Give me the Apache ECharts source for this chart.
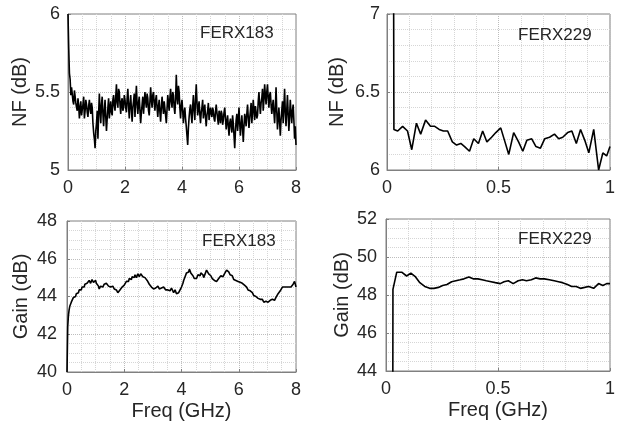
<!DOCTYPE html>
<html>
<head>
<meta charset="utf-8">
<script src="https://cdn.jsdelivr.net/npm/echarts@6/dist/echarts.min.js"></script>
<style>
  html, body { margin: 0; padding: 0; background: #fff; }
  #chart { width: 618px; height: 432px; }
</style>
</head>
<body>
<div id="chart"></div>
<script>
// FERX183 sweep, 0 - 8 GHz
let freq183 = [
  0, 0.025, 0.05, 0.075, 0.1, 0.125, 0.15, 0.175, 0.2, 0.225, 0.25, 0.275, 0.3, 0.325, 0.35, 0.375, 0.4, 0.425, 0.45, 0.475,
  0.5, 0.525, 0.55, 0.575, 0.6, 0.625, 0.65, 0.675, 0.7, 0.725, 0.75, 0.775, 0.8, 0.825, 0.85, 0.875, 0.9, 0.925, 0.95, 0.975,
  1, 1.025, 1.05, 1.075, 1.1, 1.125, 1.15, 1.175, 1.2, 1.225, 1.25, 1.275, 1.3, 1.325, 1.35, 1.375, 1.4, 1.425, 1.45, 1.475,
  1.5, 1.525, 1.55, 1.575, 1.6, 1.625, 1.65, 1.675, 1.7, 1.725, 1.75, 1.775, 1.8, 1.825, 1.85, 1.875, 1.9, 1.925, 1.95, 1.975,
  2, 2.025, 2.05, 2.075, 2.1, 2.125, 2.15, 2.175, 2.2, 2.225, 2.25, 2.275, 2.3, 2.325, 2.35, 2.375, 2.4, 2.425, 2.45, 2.475,
  2.5, 2.525, 2.55, 2.575, 2.6, 2.625, 2.65, 2.675, 2.7, 2.725, 2.75, 2.775, 2.8, 2.825, 2.85, 2.875, 2.9, 2.925, 2.95, 2.975,
  3, 3.025, 3.05, 3.075, 3.1, 3.125, 3.15, 3.175, 3.2, 3.225, 3.25, 3.275, 3.3, 3.325, 3.35, 3.375, 3.4, 3.425, 3.45, 3.475,
  3.5, 3.525, 3.55, 3.575, 3.6, 3.625, 3.65, 3.675, 3.7, 3.725, 3.75, 3.775, 3.8, 3.825, 3.85, 3.875, 3.9, 3.925, 3.95, 3.975,
  4, 4.025, 4.05, 4.075, 4.1, 4.125, 4.15, 4.175, 4.2, 4.225, 4.25, 4.275, 4.3, 4.325, 4.35, 4.375, 4.4, 4.425, 4.45, 4.475,
  4.5, 4.525, 4.55, 4.575, 4.6, 4.625, 4.65, 4.675, 4.7, 4.725, 4.75, 4.775, 4.8, 4.825, 4.85, 4.875, 4.9, 4.925, 4.95, 4.975,
  5, 5.025, 5.05, 5.075, 5.1, 5.125, 5.15, 5.175, 5.2, 5.225, 5.25, 5.275, 5.3, 5.325, 5.35, 5.375, 5.4, 5.425, 5.45, 5.475,
  5.5, 5.525, 5.55, 5.575, 5.6, 5.625, 5.65, 5.675, 5.7, 5.725, 5.75, 5.775, 5.8, 5.825, 5.85, 5.875, 5.9, 5.925, 5.95, 5.975,
  6, 6.025, 6.05, 6.075, 6.1, 6.125, 6.15, 6.175, 6.2, 6.225, 6.25, 6.275, 6.3, 6.325, 6.35, 6.375, 6.4, 6.425, 6.45, 6.475,
  6.5, 6.525, 6.55, 6.575, 6.6, 6.625, 6.65, 6.675, 6.7, 6.725, 6.75, 6.775, 6.8, 6.825, 6.85, 6.875, 6.9, 6.925, 6.95, 6.975,
  7, 7.025, 7.05, 7.075, 7.1, 7.125, 7.15, 7.175, 7.2, 7.225, 7.25, 7.275, 7.3, 7.325, 7.35, 7.375, 7.4, 7.425, 7.45, 7.475,
  7.5, 7.525, 7.55, 7.575, 7.6, 7.625, 7.65, 7.675, 7.7, 7.725, 7.75, 7.775, 7.8, 7.825, 7.85, 7.875, 7.9, 7.925, 7.95, 7.975,
  8
];
let nf183 = [
  6.00, 5.78, 5.62, 5.58, 5.48, 5.53, 5.52, 5.44, 5.42, 5.51, 5.50, 5.43, 5.40, 5.38, 5.46, 5.41, 5.33, 5.40, 5.44, 5.35,
  5.36, 5.42, 5.47, 5.33, 5.38, 5.45, 5.42, 5.37, 5.34, 5.41, 5.45, 5.39, 5.36, 5.43, 5.40, 5.30, 5.24, 5.20, 5.14, 5.25,
  5.30, 5.38, 5.20, 5.36, 5.49, 5.38, 5.30, 5.42, 5.47, 5.36, 5.28, 5.38, 5.45, 5.34, 5.25, 5.33, 5.40, 5.46, 5.33, 5.39,
  5.44, 5.37, 5.35, 5.45, 5.48, 5.41, 5.38, 5.47, 5.55, 5.43, 5.40, 5.52, 5.50, 5.42, 5.36, 5.44, 5.46, 5.38, 5.40, 5.48,
  5.45, 5.40, 5.37, 5.46, 5.52, 5.41, 5.33, 5.42, 5.48, 5.39, 5.31, 5.40, 5.44, 5.49, 5.34, 5.45, 5.54, 5.42, 5.36, 5.43,
  5.47, 5.38, 5.30, 5.37, 5.42, 5.47, 5.36, 5.43, 5.50, 5.44, 5.40, 5.49, 5.46, 5.38, 5.35, 5.44, 5.53, 5.45, 5.40, 5.48,
  5.50, 5.43, 5.38, 5.45, 5.48, 5.40, 5.34, 5.41, 5.45, 5.37, 5.31, 5.40, 5.47, 5.41, 5.36, 5.44, 5.43, 5.35, 5.30, 5.39,
  5.48, 5.43, 5.38, 5.46, 5.52, 5.44, 5.40, 5.50, 5.48, 5.40, 5.36, 5.45, 5.61, 5.47, 5.42, 5.54, 5.50, 5.40, 5.33, 5.41,
  5.45, 5.38, 5.30, 5.37, 5.40, 5.33, 5.28, 5.22, 5.16, 5.27, 5.34, 5.39, 5.42, 5.35, 5.30, 5.41, 5.48, 5.38, 5.32, 5.45,
  5.55, 5.44, 5.35, 5.40, 5.44, 5.36, 5.30, 5.37, 5.40, 5.45, 5.33, 5.38, 5.42, 5.34, 5.28, 5.35, 5.38, 5.43, 5.32, 5.37,
  5.40, 5.36, 5.34, 5.40, 5.38, 5.33, 5.31, 5.37, 5.42, 5.37, 5.33, 5.29, 5.38, 5.35, 5.30, 5.38, 5.36, 5.29, 5.32, 5.37,
  5.40, 5.33, 5.26, 5.31, 5.35, 5.28, 5.22, 5.30, 5.33, 5.28, 5.24, 5.35, 5.30, 5.22, 5.14, 5.25, 5.32, 5.36, 5.25, 5.31,
  5.40, 5.30, 5.22, 5.29, 5.35, 5.27, 5.18, 5.28, 5.36, 5.33, 5.28, 5.36, 5.42, 5.34, 5.27, 5.33, 5.38, 5.43, 5.30, 5.37,
  5.45, 5.38, 5.32, 5.41, 5.40, 5.33, 5.35, 5.44, 5.50, 5.42, 5.36, 5.43, 5.46, 5.52, 5.38, 5.45, 5.55, 5.48, 5.42, 5.50,
  5.55, 5.46, 5.40, 5.48, 5.50, 5.42, 5.36, 5.41, 5.45, 5.37, 5.30, 5.40, 5.53, 5.38, 5.26, 5.33, 5.40, 5.31, 5.22, 5.32,
  5.38, 5.44, 5.30, 5.40, 5.52, 5.37, 5.28, 5.38, 5.48, 5.36, 5.25, 5.34, 5.45, 5.37, 5.30, 5.38, 5.42, 5.32, 5.20, 5.28,
  5.16
];
let gain183 = [
  40.0, 42.4, 43.0, 43.3, 43.5, 43.55, 43.7, 43.65, 43.8, 43.95, 43.85, 44.0, 44.0, 44.15, 44.1, 44.25, 44.2, 44.35, 44.3, 44.25,
  44.35, 44.5, 44.45, 44.55, 44.5, 44.65, 44.6, 44.75, 44.7, 44.8, 44.65, 44.85, 44.8, 44.7, 44.75, 44.9, 44.8, 44.75, 44.7, 44.8,
  44.85, 44.7, 44.6, 44.65, 44.55, 44.4, 44.45, 44.55, 44.6, 44.45, 44.5, 44.6, 44.65, 44.55, 44.6, 44.7, 44.7, 44.6, 44.55, 44.65,
  44.6, 44.5, 44.45, 44.55, 44.55, 44.45, 44.4, 44.5, 44.45, 44.35, 44.3, 44.2, 44.2, 44.3, 44.35, 44.45, 44.4, 44.5, 44.55, 44.5,
  44.6, 44.7, 44.7, 44.8, 44.85, 44.75, 44.8, 44.95, 44.95, 44.85, 44.9, 45.05, 45.05, 44.95, 45.0, 45.15, 45.1, 45.0, 45.05, 45.2,
  45.15, 45.05, 45.1, 45.2, 45.15, 45.1, 45.05, 45.15, 45.1, 45.0, 44.95, 44.9, 44.85, 44.8, 44.75, 44.65, 44.6, 44.55, 44.5, 44.45,
  44.45, 44.4, 44.35, 44.5, 44.45, 44.35, 44.4, 44.55, 44.5, 44.4, 44.35, 44.5, 44.45, 44.35, 44.4, 44.5, 44.5, 44.4, 44.35, 44.45,
  44.45, 44.35, 44.4, 44.45, 44.3, 44.4, 44.45, 44.35, 44.35, 44.2, 44.25, 44.35, 44.3, 44.15, 44.1, 44.2, 44.2, 44.3, 44.35, 44.45,
  44.5, 44.55, 44.7, 44.85, 44.95, 45.05, 45.15, 45.25, 45.35, 45.25, 45.3, 45.45, 45.4, 45.25, 45.2, 45.15, 45.1, 45.0, 44.95, 44.85,
  44.85, 44.95, 45.0, 45.15, 45.2, 45.05, 45.1, 45.25, 45.3, 45.2, 45.15, 45.0, 45.05, 45.2, 45.3, 45.4, 45.45, 45.3, 45.2, 45.3,
  45.2, 45.1, 45.05, 44.95, 44.95, 44.85, 44.85, 44.95, 44.9, 44.8, 44.8, 44.9, 44.95, 44.9, 45.0, 45.1, 45.1, 45.0, 45.05, 45.15,
  45.2, 45.25, 45.3, 45.4, 45.4, 45.45, 45.3, 45.25, 45.15, 45.1, 45.05, 45.1, 45.0, 44.9, 44.95, 44.85, 44.85, 44.95, 44.9, 44.8,
  44.8, 44.7, 44.75, 44.85, 44.8, 44.7, 44.7, 44.65, 44.6, 44.5, 44.55, 44.5, 44.45, 44.35, 44.4, 44.35, 44.3, 44.2, 44.25, 44.2,
  44.15, 44.05, 44.05, 44.1, 44.0, 43.9, 43.95, 43.9, 43.9, 43.8, 43.85, 43.75, 43.8, 43.85, 43.8, 43.7, 43.7, 43.6, 43.75, 43.8,
  43.8, 43.7, 43.7, 43.8, 43.8, 43.75, 43.75, 43.85, 43.85, 43.8, 43.8, 43.9, 43.95, 44.0, 44.05, 44.15, 44.2, 44.25, 44.3, 44.4,
  44.4, 44.5, 44.45, 44.5, 44.5, 44.4, 44.4, 44.5, 44.55, 44.45, 44.5, 44.55, 44.45, 44.5, 44.6, 44.55, 44.65, 44.75, 44.8, 44.7,
  44.5
];

// FERX229 sweep, 0 - 1 GHz
let freq229 = [
  0.029, 0.031, 0.048, 0.070, 0.092, 0.111, 0.132, 0.151, 0.173, 0.195, 0.214,
  0.234, 0.253, 0.272, 0.293, 0.312, 0.331, 0.348, 0.370, 0.389, 0.410,
  0.429, 0.448, 0.469, 0.488, 0.510, 0.527, 0.546, 0.568, 0.590, 0.609,
  0.627, 0.649, 0.668, 0.688, 0.707, 0.729, 0.751, 0.770, 0.788, 0.810,
  0.829, 0.849, 0.868, 0.887, 0.905, 0.927, 0.949, 0.968, 0.985, 1.0
];
let nf229 = [
  7.60, 6.26, 6.25, 6.28, 6.25, 6.13, 6.30, 6.23, 6.32, 6.28, 6.28,
  6.26, 6.25, 6.25, 6.18, 6.16, 6.17, 6.15, 6.12, 6.20, 6.17,
  6.25, 6.18, 6.21, 6.24, 6.27, 6.19, 6.10, 6.24, 6.18, 6.12,
  6.19, 6.20, 6.15, 6.14, 6.20, 6.21, 6.23, 6.20, 6.21, 6.24,
  6.25, 6.17, 6.26, 6.19, 6.11, 6.26, 6.00, 6.11, 6.09, 6.15
];
let gain229 = [
  30.0, 48.3, 49.2, 49.2, 49.0, 49.15, 48.95, 48.65, 48.45, 48.35, 48.35,
  48.4, 48.5, 48.55, 48.7, 48.75, 48.8, 48.85, 48.95, 48.85, 48.85,
  48.8, 48.75, 48.7, 48.65, 48.6, 48.7, 48.75, 48.6, 48.75, 48.8,
  48.75, 48.8, 48.9, 48.85, 48.85, 48.8, 48.75, 48.7, 48.65, 48.55,
  48.45, 48.45, 48.35, 48.4, 48.45, 48.35, 48.6, 48.5, 48.6, 48.6
];

let font = '"Liberation Sans", Arial, sans-serif';
let textColor = '#262626';
let boxColor = '#808080';

// one panel per entry: grid box, axes ranges and text
let panels = [
  { box: {left: 68, top: 14, width: 228, height: 156}, x: [0, 8, 2, 4], y: [5, 6, 0.5, 5],
    yName: 'NF (dB)', yGap: 38, yMargin: 8, xName: '', label: 'FERX183', labelPos: [200, 25] },
  { box: {left: 387, top: 14, width: 228, height: 156}, x: [0, 1, 0.5, 5], y: [6, 7, 0.5, 5],
    yName: 'NF (dB)', yGap: 40, yMargin: 7, xName: '', label: 'FERX229', labelPos: [518, 27] },
  { box: {left: 67, top: 221, width: 229, height: 151}, x: [0, 8, 2, 4], y: [40, 48, 2, 4],
    yName: 'Gain (dB)', yGap: 36, yMargin: 10, xName: 'Freq (GHz)', label: 'FERX183', labelPos: [202, 233] },
  { box: {left: 386, top: 219, width: 229, height: 152}, x: [0, 1, 0.5, 5], y: [44, 52, 2, 4],
    yName: 'Gain (dB)', yGap: 34, yMargin: 9, xName: 'Freq (GHz)', label: 'FERX229', labelPos: [518, 231] }
];

let seriesData = [
  [freq183, nf183],
  [freq229, nf229],
  [freq183, gain183],
  [freq229, gain229]
];

function makeAxis(i, range, isX, p) {
  return {
    type: 'value',
    gridIndex: i,
    min: range[0],
    max: range[1],
    interval: range[2],
    name: isX ? p.xName : p.yName,
    nameLocation: 'middle',
    nameGap: isX ? 29 : p.yGap,
    nameTextStyle: { fontFamily: font, fontSize: 20, color: textColor },
    axisLine: { show: true, onZero: false, lineStyle: { color: boxColor, width: 1 } },
    axisTick: { show: true, inside: true, length: 3, lineStyle: { color: boxColor } },
    axisLabel: { fontFamily: font, fontSize: 18, color: textColor, margin: isX ? 9 : p.yMargin },
    splitLine: { show: true, lineStyle: { color: '#bdbdbd', type: 'dotted', width: 1 } },
    minorTick: { show: false, splitNumber: range[3] },
    minorSplitLine: { show: true, lineStyle: { color: '#d6d6d6', type: 'dotted', width: 1 } }
  };
}

let option = {
  animation: false,
  backgroundColor: '#fff',
  title: [],
  grid: [],
  xAxis: [],
  yAxis: [],
  series: []
};

for (let i = 0; i < panels.length; i++) {
  let p = panels[i];
  option.grid.push(Object.assign({ show: true, borderColor: boxColor, borderWidth: 1, containLabel: false }, p.box));
  option.xAxis.push(makeAxis(i, p.x, true, p));
  option.yAxis.push(makeAxis(i, p.y, false, p));
  option.title.push({
    text: p.label,
    left: p.labelPos[0],
    top: p.labelPos[1],
    padding: 0,
    textStyle: { fontFamily: font, fontSize: 17, fontWeight: 'normal', color: textColor }
  });
  let xs = seriesData[i][0], ys = seriesData[i][1];
  option.series.push({
    type: 'line',
    xAxisIndex: i,
    yAxisIndex: i,
    data: ys.map(function (v, k) { return [xs[k], v]; }),
    showSymbol: false,
    clip: true,
    silent: true,
    lineStyle: { color: '#000', width: 1.6 }
  });
}

let myChart = echarts.init(document.getElementById('chart'), null, { renderer: 'canvas' });
myChart.setOption(option);
</script>
</body>
</html>
